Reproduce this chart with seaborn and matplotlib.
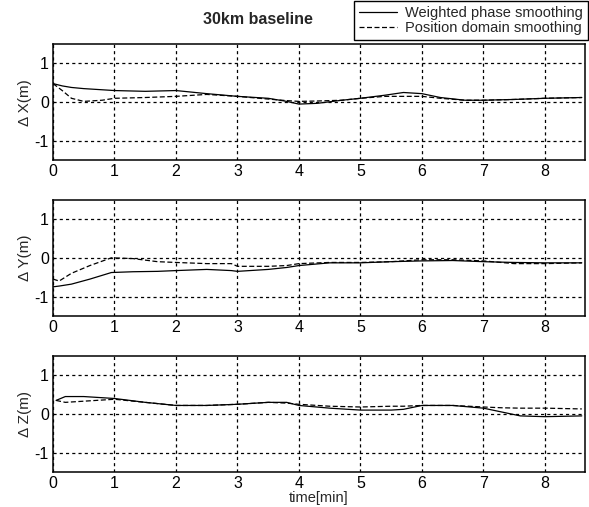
import numpy as np
import pandas as pd
import matplotlib
matplotlib.use("Agg")
import matplotlib.pyplot as plt
import seaborn as sns

# -------------------------------
# Data
# -------------------------------
t_x = [0, 0.15, 0.3, 0.5, 0.8, 1.0, 1.5, 2.0, 2.5, 3.0, 3.5, 3.8, 4.0, 4.3, 4.7, 5.0, 5.4, 5.7, 6.0, 6.3, 6.7, 7.0, 7.5, 8.0, 8.6]
dx_weighted = [0.48, 0.42, 0.38, 0.35, 0.32, 0.30, 0.28, 0.30, 0.22, 0.15, 0.10, 0.02, -0.05, -0.03, 0.05, 0.10, 0.18, 0.25, 0.22, 0.12, 0.05, 0.05, 0.07, 0.10, 0.12]
dx_position = [0.48, 0.30, 0.10, 0.02, 0.05, 0.10, 0.12, 0.15, 0.20, 0.15, 0.08, 0.04, 0.02, 0.03, 0.05, 0.10, 0.15, 0.15, 0.15, 0.10, 0.05, 0.05, 0.07, 0.10, 0.12]

t_y = [0, 0.1, 0.3, 0.6, 0.95, 1.3, 1.7, 2.0, 2.5, 2.9, 3.0, 3.5, 3.8, 4.0, 4.5, 5.0, 5.5, 6.0, 6.5, 7.0, 7.5, 8.0, 8.6]
dy_weighted = [-0.75, -0.73, -0.68, -0.55, -0.38, -0.36, -0.35, -0.33, -0.30, -0.33, -0.35, -0.30, -0.25, -0.20, -0.13, -0.13, -0.10, -0.08, -0.07, -0.10, -0.12, -0.13, -0.13]
dy_position = [-0.55, -0.60, -0.40, -0.20, 0.00, -0.02, -0.10, -0.12, -0.15, -0.15, -0.22, -0.22, -0.20, -0.15, -0.12, -0.12, -0.10, -0.05, -0.05, -0.08, -0.15, -0.15, -0.13]

t_z = [0.05, 0.2, 0.5, 1.0, 1.5, 2.0, 2.5, 3.0, 3.5, 3.8, 4.0, 4.5, 5.0, 5.5, 5.7, 6.0, 6.5, 7.0, 7.3, 7.6, 8.0, 8.6]
dz_weighted = [0.35, 0.45, 0.45, 0.40, 0.30, 0.22, 0.22, 0.25, 0.30, 0.30, 0.22, 0.15, 0.10, 0.10, 0.12, 0.22, 0.22, 0.15, 0.05, -0.05, -0.07, -0.05]
dz_position = [0.35, 0.30, 0.33, 0.38, 0.30, 0.22, 0.22, 0.25, 0.30, 0.28, 0.25, 0.20, 0.18, 0.20, 0.20, 0.22, 0.22, 0.18, 0.16, 0.15, 0.15, 0.13]

labels = ["Weighted phase smoothing", "Position domain smoothing"]
panels = [
    ("\u0394 X(m)", t_x, dx_weighted, dx_position),
    ("\u0394 Y(m)", t_y, dy_weighted, dy_position),
    ("\u0394 Z(m)", t_z, dz_weighted, dz_position),
]

# -------------------------------
# Plot
# -------------------------------
sns.set_style("white")
plt.rcParams["font.family"] = ["Liberation Sans", "DejaVu Sans"]
plt.rcParams["axes.unicode_minus"] = False

fig = plt.figure(figsize=(5.89, 5.07), dpi=100)
left, width, height = 0.09, 0.903, 0.229
bottoms = [0.684, 0.377, 0.069]

for (ylab, t, w, p), b in zip(panels, bottoms):
    ax = fig.add_axes([left, b, width, height])
    df = pd.DataFrame({"t": t + t, "v": w + p,
                       "method": [labels[0]] * len(t) + [labels[1]] * len(t)})
    sns.lineplot(data=df, x="t", y="v", style="method", style_order=labels,
                 dashes={labels[0]: "", labels[1]: (4, 2)},
                 color="black", linewidth=0.9, legend=(b == bottoms[0]), ax=ax)
    ax.set_xlim(0, 8.65)
    ax.set_ylim(-1.5, 1.5)
    ax.set_xticks(range(0, 9))
    ax.set_yticks([-1, 0, 1])
    ax.grid(True, color="black", linestyle=(0, (2.5, 2.5)), linewidth=0.9)
    ax.tick_params(direction="in", length=3, labelsize=11.5, colors="black", pad=3)
    for s in ax.spines.values():
        s.set_color("black")
        s.set_linewidth(1.1)
    ax.set_ylabel(ylab, fontsize=11, labelpad=2)
    ax.set_xlabel("")
    if b == bottoms[0]:
        handles, lbls = ax.get_legend_handles_labels()
        ax.get_legend().remove()
        leg = fig.legend(handles, lbls, loc="upper right", bbox_to_anchor=(1.0, 1.0),
                         frameon=True, fancybox=False, edgecolor="black", framealpha=1,
                         fontsize=10.5, borderaxespad=0.1, handlelength=2.6,
                         borderpad=0.3, labelspacing=0.1, handletextpad=0.6)
        leg.get_frame().set_linewidth(1.0)
    if b == bottoms[-1]:
        ax.set_xlabel("time[min]", fontsize=10.5, labelpad=0)

fig.text(258 / 589, 1 - 20 / 507, "30km baseline", ha="center", va="center",
         fontsize=11.5, fontweight="bold")

fig.savefig("out.png", dpi=100)
